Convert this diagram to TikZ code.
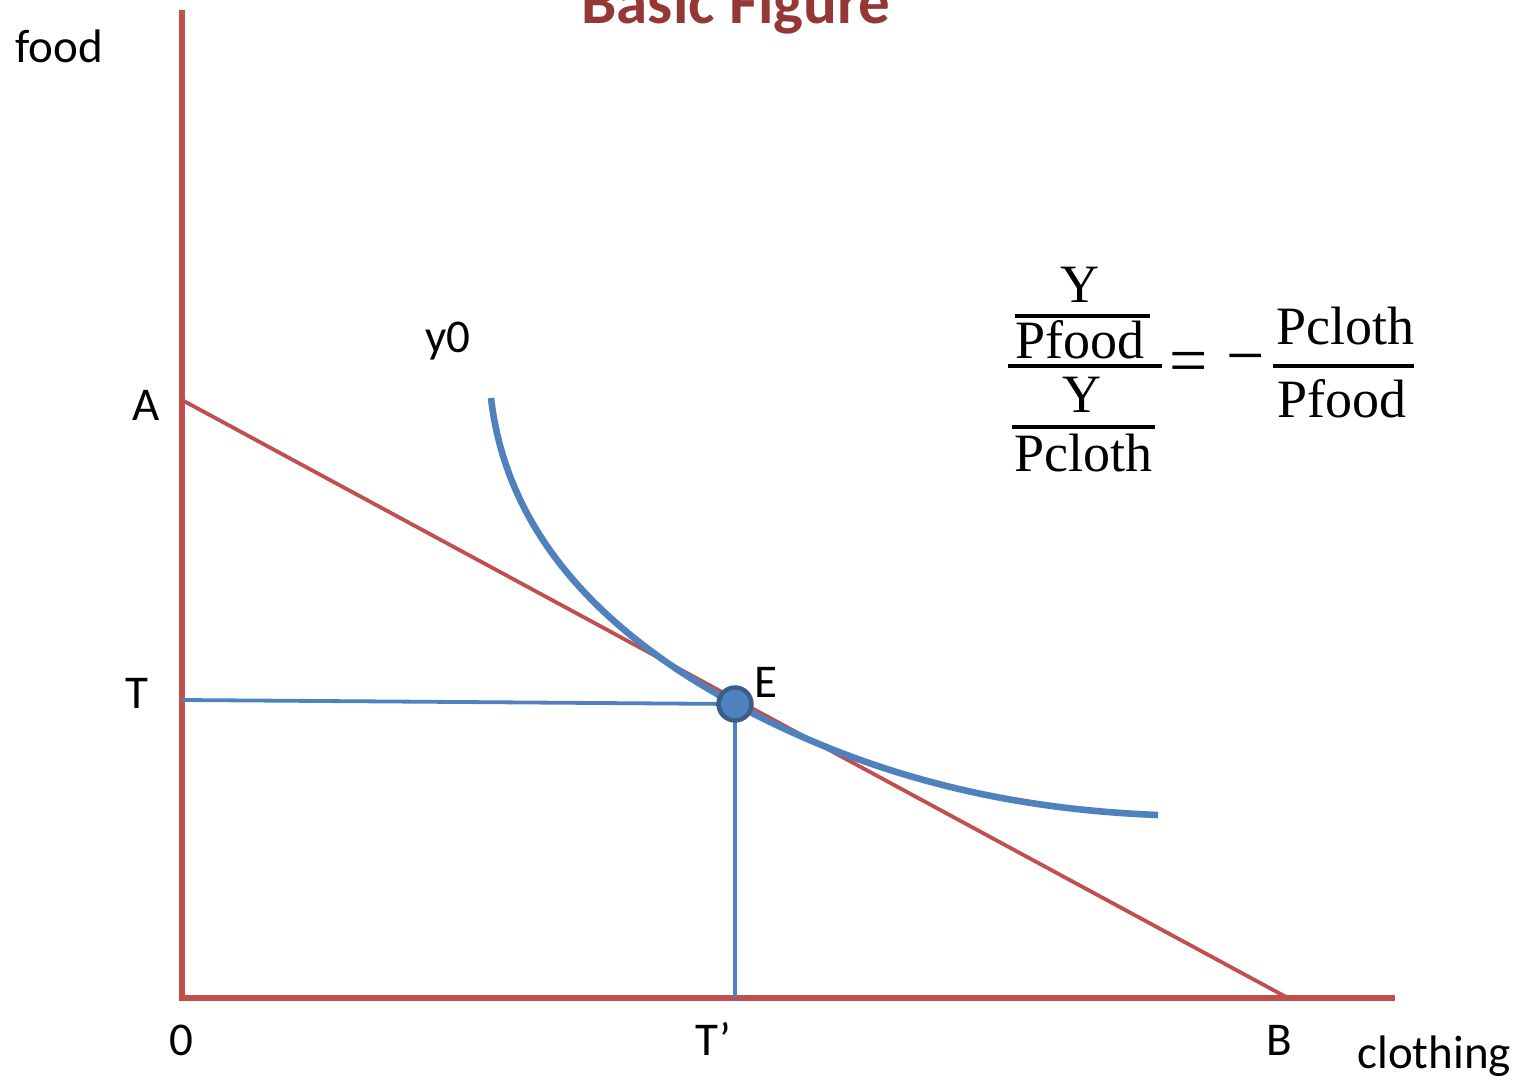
\documentclass[tikz,border=0pt]{standalone}
\usepackage{fontspec}
\setmainfont{Carlito}
\newfontfamily\formfont{Liberation Serif}
\definecolor{axisred}{HTML}{C0504D}
\definecolor{curveblue}{HTML}{4F81BD}
\definecolor{edge}{HTML}{385D8A}
\definecolor{titlered}{HTML}{953735}
\begin{document}
\begin{tikzpicture}[x=0.5pt,y=-0.5pt,
  lbl/.style={font=\fontsize{23.5}{28}\selectfont, inner sep=0pt, anchor=base},
  frm/.style={font=\formfont\fontsize{27}{32}\selectfont, inner sep=0pt, anchor=base},
  fracbar/.style={draw=black, line width=2pt},
  axisline/.style={draw=axisred, line width=3.2pt},
  budget/.style={draw=axisred, line width=1.9pt},
  guide/.style={draw=curveblue, line width=1.9pt},
  indiff/.style={draw=curveblue, line width=3.3pt}]
\useasboundingbox (0,0) rectangle (1522,1081);
% axes
\coordinate (top) at (182,10);
\coordinate (ybot) at (182,1001);
\coordinate (xend) at (1395,998);
\coordinate (xstart) at (179,998);
\coordinate (A) at (182,400);
\coordinate (B) at (1288,998);
\coordinate (Tp) at (182,700);
\coordinate (Tb) at (735,998);
\coordinate (E) at (735,704);
\coordinate (cs) at (491,398);
\coordinate (ce) at (1158,815);
\draw[axisline] (top) -- (ybot);
\draw[axisline] (xstart) -- (xend);
\draw[budget] (A) -- (B);
\draw[guide] (Tp) -- (E);
\draw[guide] (E) -- (Tb);
\draw[indiff] (cs) .. controls (505,520) and (585,623) .. (E)
  .. controls (885,785) and (1030,810) .. (ce);
\node[circle, fill=curveblue, draw=edge, line width=2.2pt, minimum size=16.5pt, inner sep=0pt] (Edot) at (E) {};
% labels
\node[font=\fontsize{31.5}{36}\selectfont\bfseries, text=titlered, inner sep=0pt, anchor=base] (title) at (736,24) {Basic Figure};
\node[lbl, anchor=base west] (food) at (15,63) {food};
\node[lbl] (Alab) at (146,420) {A};
\node[lbl] (Tlab) at (137,708) {T};
\node[lbl] (zero) at (181,1055) {0};
\node[lbl] (Tprime) at (713,1055) {T’};
\node[lbl] (Blab) at (1279,1055) {B};
\node[lbl, anchor=base west] (cloth) at (1357,1068) {clothing};
\node[lbl] (y0) at (448,352) {y0};
\node[lbl] (Elab) at (766,697) {E};
% formula
\node[frm] (Y1) at (1080,302) {Y};
\draw[fracbar] (1015,316) -- (1150,316);
\node[frm] (Pf1) at (1080,358) {Pfood};
\draw[fracbar] (1008,366) -- (1162,366);
\node[frm] (Y2) at (1082,412) {Y};
\draw[fracbar] (1012,427) -- (1155,427);
\node[frm] (Pc1) at (1083,471) {Pcloth};
\node[font=\formfont\fontsize{34}{40}\selectfont, inner sep=0pt] (eq) at (1189,368) {=};
\node[font=\formfont\fontsize{34}{40}\selectfont, inner sep=0pt] (minus) at (1246,366) {−};
\draw[fracbar] (1273,366) -- (1414,366);
\node[frm] (Pc2) at (1345,344) {Pcloth};
\node[frm] (Pf2) at (1342,417) {Pfood};
\end{tikzpicture}
\end{document}
